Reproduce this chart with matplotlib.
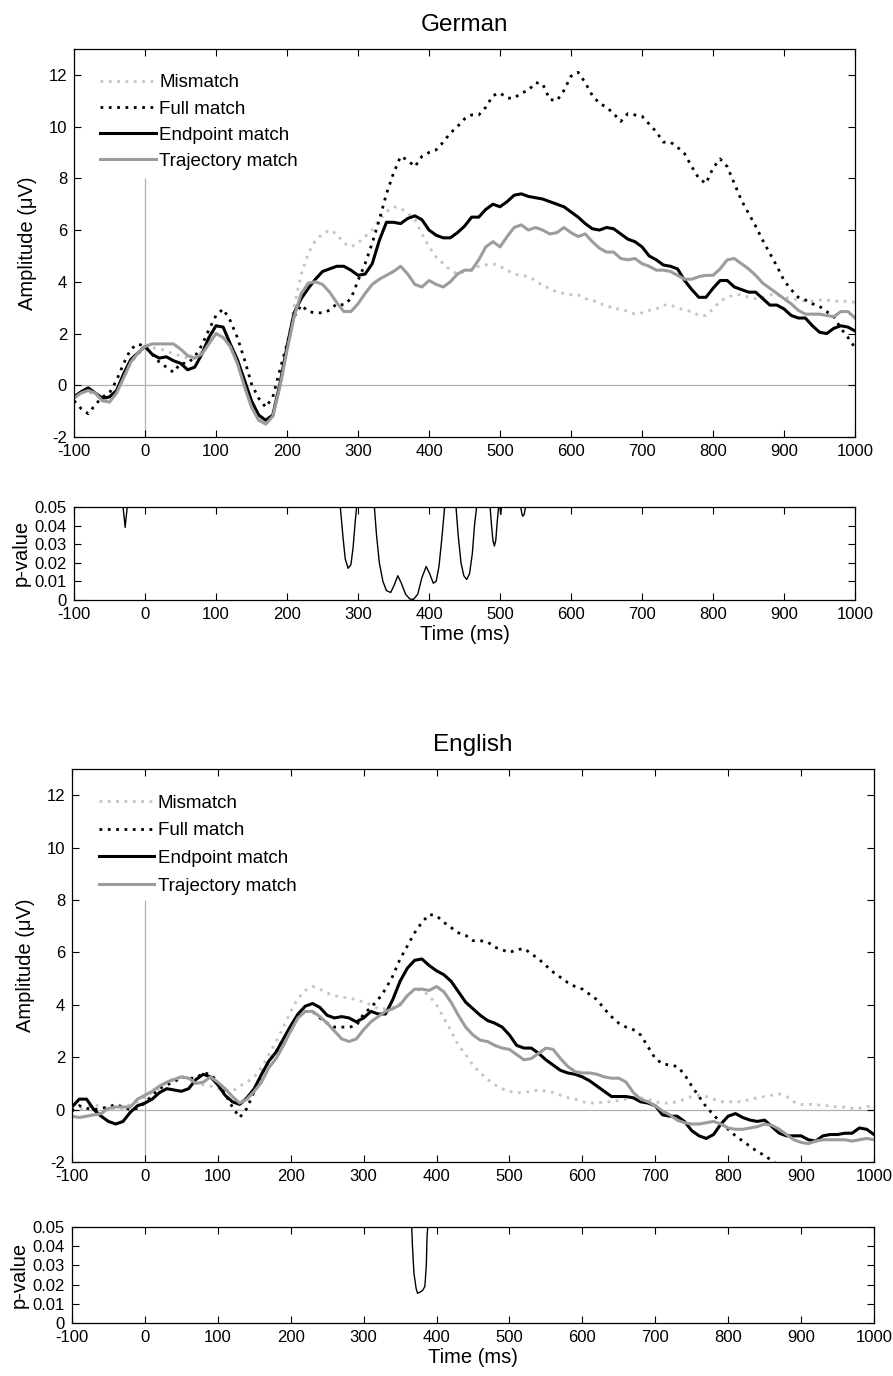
#!/usr/bin/env python3
"""
ERP grand averages (German / English) with point-wise p-value strips.
"""
import numpy as np
import matplotlib
matplotlib.use('Agg')
import matplotlib.pyplot as plt

plt.rcParams['font.family'] = ['Liberation Sans', 'DejaVu Sans']
plt.rcParams['axes.unicode_minus'] = False

# time axis of the waveforms (ms)
t = np.arange(-100, 1001, 10)

# ---- German ----
de_mismatch = [-0.45, -0.3, -0.25, -0.4, -0.5, -0.5, -0.2, 0.3, 0.85, 1.2, 1.45,
               1.45, 1.4, 1.35, 1.2, 1.15, 1.05, 1.05, 1.3, 1.75, 2.0,
               1.85, 1.5, 0.85, 0.05, -0.7, -1.25, -1.4, -1.05, 0.05, 1.5,
               3.05, 4.3, 5.1, 5.6, 5.85, 6.0, 5.85, 5.5, 5.35, 5.5,
               5.75, 6.0, 6.4, 6.7, 6.9, 6.85, 6.65, 6.4, 5.85, 5.35,
               4.95, 4.7, 4.45, 4.3, 4.4, 4.45, 4.6, 4.65, 4.7, 4.6,
               4.45, 4.3, 4.25, 4.2, 4.05, 3.85, 3.75, 3.6, 3.55, 3.5,
               3.5, 3.35, 3.3, 3.15, 3.1, 2.95, 2.95, 2.85, 2.75, 2.8,
               2.9, 2.95, 3.1, 3.1, 3.0, 2.9, 2.85, 2.7, 2.7, 2.95,
               3.25, 3.4, 3.5, 3.5, 3.4, 3.35, 3.4, 3.5, 3.5, 3.4,
               3.35, 3.3, 3.25, 3.25, 3.3, 3.3, 3.25, 3.25, 3.25, 3.2]
de_full = [-0.6, -0.9, -1.1, -0.75, -0.45, -0.3, 0.2, 0.85, 1.4, 1.6, 1.5,
           1.2, 0.9, 0.7, 0.5, 0.85, 0.85, 1.1, 1.55, 2.15, 2.7,
           2.95, 2.5, 1.85, 1.0, 0.05, -0.5, -0.85, -0.45, 0.6, 1.6,
           2.65, 3.1, 2.85, 2.8, 2.8, 2.9, 3.15, 3.1, 3.35, 4.05,
           4.7, 5.5, 6.4, 7.4, 8.2, 8.85, 8.7, 8.45, 8.85, 9.0,
           9.1, 9.4, 9.75, 10.0, 10.3, 10.45, 10.45, 10.75, 11.2, 11.3,
           11.1, 11.1, 11.3, 11.4, 11.7, 11.65, 11.05, 11.0, 11.4, 11.95,
           12.1, 11.7, 11.2, 10.9, 10.75, 10.5, 10.2, 10.5, 10.45, 10.4,
           10.1, 9.8, 9.4, 9.4, 9.2, 8.95, 8.45, 8.0, 7.8, 8.4,
           8.75, 8.45, 7.8, 7.15, 6.65, 6.15, 5.6, 5.1, 4.6, 4.05,
           3.7, 3.4, 3.3, 3.15, 3.05, 2.85, 2.65, 2.2, 1.85, 1.45]
de_endpoint = [-0.45, -0.25, -0.1, -0.3, -0.5, -0.45, -0.2, 0.45, 1.0, 1.25, 1.5,
               1.2, 1.05, 1.1, 0.95, 0.85, 0.6, 0.7, 1.2, 1.85, 2.3,
               2.25, 1.6, 1.0, 0.2, -0.6, -1.15, -1.35, -1.15, 0.05, 1.5,
               2.8, 3.35, 3.75, 4.1, 4.4, 4.5, 4.6, 4.6, 4.45, 4.25,
               4.3, 4.7, 5.6, 6.3, 6.3, 6.25, 6.45, 6.55, 6.4, 6.0,
               5.8, 5.7, 5.7, 5.9, 6.15, 6.5, 6.5, 6.8, 7.0, 6.9,
               7.1, 7.35, 7.4, 7.3, 7.25, 7.2, 7.1, 7.0, 6.9, 6.7,
               6.5, 6.25, 6.05, 6.0, 6.1, 6.05, 5.85, 5.65, 5.55, 5.35,
               5.0, 4.85, 4.65, 4.6, 4.5, 4.05, 3.7, 3.4, 3.4, 3.75,
               4.05, 4.05, 3.8, 3.7, 3.6, 3.6, 3.35, 3.1, 3.1, 2.95,
               2.7, 2.6, 2.6, 2.3, 2.05, 2.0, 2.2, 2.3, 2.25, 2.1]
de_trajectory = [-0.5, -0.3, -0.2, -0.3, -0.6, -0.65, -0.3, 0.3, 0.9, 1.25, 1.5,
                 1.6, 1.6, 1.6, 1.6, 1.4, 1.15, 1.05, 1.2, 1.6, 2.0,
                 1.85, 1.5, 0.85, -0.05, -0.85, -1.35, -1.5, -1.2, -0.05, 1.35,
                 2.65, 3.55, 3.95, 4.0, 3.9, 3.6, 3.2, 2.85, 2.85, 3.15,
                 3.55, 3.9, 4.1, 4.25, 4.4, 4.6, 4.3, 3.9, 3.8, 4.05,
                 3.9, 3.8, 4.0, 4.3, 4.45, 4.45, 4.85, 5.35, 5.55, 5.35,
                 5.75, 6.1, 6.2, 6.0, 6.1, 6.0, 5.85, 5.9, 6.1, 5.9,
                 5.75, 5.85, 5.55, 5.3, 5.15, 5.15, 4.9, 4.85, 4.9, 4.7,
                 4.6, 4.45, 4.45, 4.4, 4.25, 4.1, 4.1, 4.2, 4.25, 4.25,
                 4.5, 4.85, 4.9, 4.7, 4.5, 4.25, 3.95, 3.75, 3.55, 3.35,
                 3.15, 2.9, 2.75, 2.75, 2.75, 2.7, 2.65, 2.85, 2.85, 2.6]

# significant stretches (p < .05), one list per stretch
de_p_times = [[-31, -29, -28, -27, -25],
              [275, 279, 282, 286, 290, 293, 296, 298],
              [323, 326, 330, 335, 340, 346, 351, 356, 361, 367, 373, 378,
               384, 390, 396, 401, 406, 410, 414, 418, 422],
              [438, 441, 445, 449, 453, 457, 461, 464, 467],
              [486, 488, 490, 492, 494, 496, 498],
              [500, 501, 502],
              [529, 531, 532, 534, 536]]
de_p_values = [[0.05, 0.043, 0.039, 0.043, 0.05],
               [0.05, 0.033, 0.022, 0.017, 0.019, 0.028, 0.042, 0.05],
               [0.05, 0.035, 0.02, 0.01, 0.005, 0.004, 0.008, 0.013, 0.009, 0.003,
                0.0005, 0.0003, 0.003, 0.012, 0.018, 0.014, 0.009, 0.010, 0.018,
                0.033, 0.05],
               [0.05, 0.035, 0.02, 0.013, 0.011, 0.014, 0.025, 0.04, 0.05],
               [0.05, 0.04, 0.032, 0.029, 0.032, 0.042, 0.05],
               [0.05, 0.046, 0.05],
               [0.05, 0.046, 0.045, 0.046, 0.05]]

# ---- English ----
en_mismatch = [-0.05, 0.0, 0.1, 0.2, 0.1, 0.05, 0.0, 0.05, 0.2, 0.3, 0.5,
               0.65, 0.8, 1.05, 1.2, 1.25, 1.2, 1.05, 0.95, 0.9, 0.8,
               0.75, 0.7, 0.9, 1.05, 1.25, 1.6, 2.1, 2.6, 3.15, 3.75,
               4.25, 4.55, 4.7, 4.6, 4.45, 4.35, 4.3, 4.25, 4.2, 4.1,
               4.0, 3.85, 3.85, 3.9, 4.05, 4.35, 4.6, 4.55, 4.35, 4.0,
               3.5, 3.0, 2.45, 2.1, 1.7, 1.4, 1.15, 0.95, 0.8, 0.7,
               0.65, 0.65, 0.7, 0.75, 0.7, 0.65, 0.55, 0.45, 0.4, 0.3,
               0.25, 0.25, 0.3, 0.3, 0.35, 0.4, 0.45, 0.45, 0.4, 0.3,
               0.25, 0.25, 0.3, 0.4, 0.5, 0.55, 0.5, 0.4, 0.3, 0.3,
               0.3, 0.3, 0.4, 0.45, 0.5, 0.55, 0.6, 0.5, 0.3, 0.2,
               0.2, 0.2, 0.15, 0.15, 0.1, 0.1, 0.05, 0.05, 0.1, 0.2]
en_full = [-0.05, 0.15, 0.05, 0.0, 0.05, 0.1, 0.2, 0.1, 0.0, 0.05, 0.25,
           0.55, 0.8, 0.95, 1.05, 1.25, 1.2, 1.2, 1.4, 1.35, 1.05,
           0.6, 0.1, -0.3, 0.05, 0.7, 1.35, 1.85, 2.2, 2.7, 3.15,
           3.55, 3.75, 3.75, 3.5, 3.3, 3.15, 3.15, 3.15, 3.2, 3.65,
           3.9, 4.2, 4.6, 5.1, 5.75, 6.25, 6.75, 7.15, 7.45, 7.4,
           7.15, 6.95, 6.75, 6.65, 6.45, 6.45, 6.4, 6.2, 6.1, 6.0,
           6.1, 6.15, 5.95, 5.75, 5.5, 5.25, 5.05, 4.85, 4.7, 4.6,
           4.4, 4.2, 3.85, 3.55, 3.3, 3.15, 3.05, 2.85, 2.4, 1.95,
           1.75, 1.7, 1.65, 1.35, 0.9, 0.5, 0.1, -0.2, -0.5, -0.75,
           -1.0, -1.2, -1.4, -1.6, -1.75, -1.95, -2.15, -2.35, -2.55, -2.75,
           -2.95, -3.15, -3.35, -3.55, -3.75, -3.95, -4.15, -4.35, -4.55, -4.75]
en_endpoint = [0.1, 0.4, 0.4, 0.0, -0.25, -0.45, -0.55, -0.45, -0.1, 0.15, 0.25,
               0.4, 0.65, 0.8, 0.75, 0.7, 0.8, 1.15, 1.35, 1.25, 0.95,
               0.55, 0.3, 0.2, 0.45, 0.8, 1.35, 1.85, 2.2, 2.7, 3.2,
               3.65, 3.95, 4.05, 3.9, 3.6, 3.5, 3.55, 3.5, 3.35, 3.5,
               3.75, 3.65, 3.65, 4.2, 4.9, 5.4, 5.7, 5.75, 5.5, 5.3,
               5.15, 4.9, 4.5, 4.1, 3.85, 3.6, 3.4, 3.3, 3.15, 2.85,
               2.45, 2.35, 2.35, 2.15, 1.9, 1.7, 1.5, 1.4, 1.35, 1.25,
               1.1, 0.9, 0.7, 0.5, 0.5, 0.5, 0.45, 0.3, 0.25, 0.15,
               -0.2, -0.25, -0.25, -0.45, -0.8, -1.0, -1.1, -0.95, -0.55, -0.25,
               -0.15, -0.3, -0.4, -0.45, -0.4, -0.65, -0.9, -1.0, -1.0, -1.0,
               -1.15, -1.2, -1.0, -0.95, -0.95, -0.9, -0.9, -0.7, -0.75, -0.95]
en_trajectory = [-0.25, -0.3, -0.25, -0.2, -0.15, 0.05, 0.1, 0.1, 0.1, 0.4, 0.55,
                 0.7, 0.9, 1.05, 1.15, 1.25, 1.2, 1.0, 1.05, 1.25, 1.05,
                 0.8, 0.5, 0.25, 0.4, 0.7, 1.05, 1.6, 1.95, 2.45, 3.0,
                 3.5, 3.75, 3.75, 3.55, 3.3, 3.0, 2.7, 2.6, 2.7, 3.05,
                 3.35, 3.55, 3.75, 3.85, 4.0, 4.35, 4.6, 4.6, 4.55, 4.7,
                 4.5, 4.1, 3.6, 3.15, 2.85, 2.65, 2.6, 2.45, 2.35, 2.3,
                 2.1, 1.9, 1.95, 2.15, 2.35, 2.3, 1.95, 1.65, 1.45, 1.4,
                 1.4, 1.35, 1.25, 1.2, 1.2, 1.05, 0.65, 0.4, 0.3, 0.15,
                 -0.05, -0.2, -0.4, -0.5, -0.55, -0.55, -0.5, -0.45, -0.55, -0.7,
                 -0.75, -0.75, -0.7, -0.65, -0.55, -0.6, -0.75, -0.95, -1.15, -1.25,
                 -1.3, -1.2, -1.15, -1.15, -1.15, -1.15, -1.2, -1.15, -1.1, -1.15]

en_p_times = [[366, 367, 369, 372, 374, 377, 381, 384, 386, 387, 388]]
en_p_values = [[0.05, 0.04, 0.026, 0.018, 0.0155, 0.016, 0.017, 0.019, 0.03, 0.045, 0.05]]

labels = ['Mismatch', 'Full match', 'Endpoint match', 'Trajectory match']
styles = [dict(color='#c4c4c4', ls=(0, (1, 2)), lw=2.0),
          dict(color='black', ls=(0, (1, 2)), lw=2.0),
          dict(color='black', ls='-', lw=2.2),
          dict(color='#9c9c9c', ls='-', lw=2.2)]

TICK_FS = 12


def style_axes(ax):
    ax.tick_params(direction='in', length=5, width=0.8, top=True, right=True,
                   labelsize=TICK_FS, pad=5)
    for sp in ax.spines.values():
        sp.set_linewidth(0.9)
    ax.set_xlim(-100, 1000)
    ax.set_xticks(np.arange(-100, 1001, 100))


def erp_panel(ax, series, title, spacing):
    ax.axhline(0, color='#b0b0b0', lw=0.9, zorder=1)
    # stimulus onset marker, stops below the legend
    ax.vlines(0, -2, 8, color='#b0b0b0', lw=0.9, zorder=1)
    for y, lab, st in zip(series, labels, styles):
        ax.plot(t, y, label=lab, zorder=2, **st)
    style_axes(ax)
    ax.set_ylim(-2, 13)
    ax.set_yticks(np.arange(-2, 13, 2))
    ax.set_ylabel('Amplitude (\u03bcV)', fontsize=14.5, labelpad=8)
    ax.set_title(title, fontsize=17.5, pad=13)
    ax.legend(loc='upper left', bbox_to_anchor=(0.024, 0.954),
              borderaxespad=0, borderpad=0.4, fontsize=13.5,
              handlelength=2.95, handletextpad=0.2, labelspacing=spacing,
              frameon=False)


def p_panel(ax, times, pvals):
    for tt, pp in zip(times, pvals):
        ax.plot(tt, pp, color='black', lw=1.0)
    style_axes(ax)
    ax.set_ylim(0, 0.05)
    ax.set_yticks([0, 0.01, 0.02, 0.03, 0.04, 0.05])
    ax.set_yticklabels(['0', '0.01', '0.02', '0.03', '0.04', '0.05'])
    ax.set_ylabel('p-value', fontsize=14.5, labelpad=3)
    ax.set_xlabel('Time (ms)', fontsize=14.5, labelpad=2)


fig = plt.figure(figsize=(8.93, 13.76), dpi=100)

ax_de = fig.add_axes([0.0829, 0.6824, 0.8746, 0.2820])
ax_de_p = fig.add_axes([0.0829, 0.5640, 0.8746, 0.0676])
ax_en = fig.add_axes([0.0806, 0.1555, 0.8981, 0.2856])
ax_en_p = fig.add_axes([0.0806, 0.0385, 0.8981, 0.0698])

erp_panel(ax_de, [de_mismatch, de_full, de_endpoint, de_trajectory], 'German', 0.48)
p_panel(ax_de_p, de_p_times, de_p_values)
erp_panel(ax_en, [en_mismatch, en_full, en_endpoint, en_trajectory], 'English', 0.56)
p_panel(ax_en_p, en_p_times, en_p_values)

fig.savefig('out.png', dpi=100)
